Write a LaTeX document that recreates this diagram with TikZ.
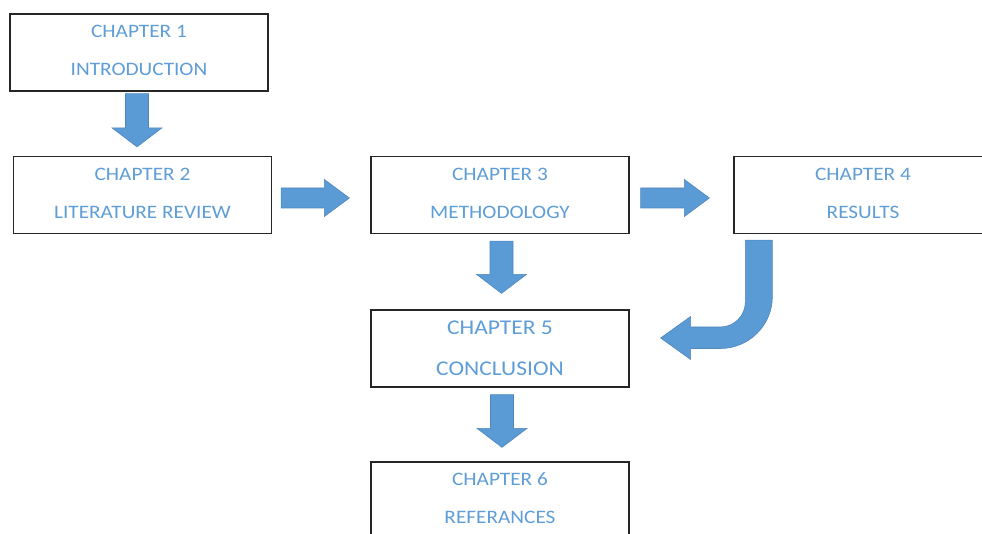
\documentclass[tikz,border=0pt]{standalone}
\usepackage{fontspec}
\setmainfont[FakeStretch=1.12]{Carlito}
\usepackage{tikz}
\usetikzlibrary{calc}

\definecolor{arrowblue}{HTML}{5B9BD5}
\definecolor{arrowedge}{HTML}{4F86BC}
\definecolor{textblue}{HTML}{5E9DD6}

\newcommand{\downblock}[2]{% shaft top, tip
	\filldraw[blockarrow] let \p1=(#1), \p2=(#2) in
		(\x1-11.5pt,\y1)--(\x1-11.5pt,\y2+19pt)--(\x1-25pt,\y2+19pt)--(\x1,\y2)
		--(\x1+25pt,\y2+19pt)--(\x1+11.5pt,\y2+19pt)--(\x1+11.5pt,\y1)--cycle;}
\newcommand{\rightblock}[2]{% shaft start, tip
	\filldraw[blockarrow] let \p1=(#1), \p2=(#2) in
		(\x1,\y1+10pt)--(\x2-25pt,\y1+10pt)--(\x2-25pt,\y1+18.5pt)--(\x2,\y1)
		--(\x2-25pt,\y1-18.5pt)--(\x2-25pt,\y1-10pt)--(\x1,\y1-10pt)--cycle;}

\begin{document}
\begin{tikzpicture}[x=1pt, y=-1pt,
	chapbox/.style={draw=black!85, line width=1.3pt, minimum width=258pt, minimum height=77pt,
		align=center, text=textblue, text depth=4pt, font=\fontsize{19}{38}\selectfont},
	blockarrow/.style={fill=arrowblue, draw=arrowedge, line width=0.6pt, line join=miter}]
	\clip (0,0) rectangle (982,534);

	\node[chapbox] (ch1) at (139,52.5) {CHAPTER 1\\INTRODUCTION};
	\node[chapbox] (ch2) at (142.5,195) {CHAPTER 2\\LITERATURE REVIEW};
	\node[chapbox] (ch3) at (500,195) {CHAPTER 3\\METHODOLOGY};
	\node[chapbox] (ch4) at (863,195) {CHAPTER 4\\RESULTS};
	\node[chapbox, text depth=1pt, font=\fontsize{21}{41}\selectfont] (ch5) at (500,348.5) {CHAPTER 5\\CONCLUSION};
	\node[chapbox] (ch6) at (500,500.5) {CHAPTER 6\\REFERANCES};

	% block arrows between the chapters
	\coordinate (a1) at ([xshift=-2pt, yshift=-2pt]ch1.south);
	\coordinate (a1tip) at ([yshift=9pt]a1 |- ch2.north);
	\downblock{a1}{a1tip}

	\coordinate (a2) at ([xshift=9pt, yshift=-3pt]ch2.east);
	\coordinate (a2tip) at ([xshift=-21pt]a2 -| ch3.west);
	\rightblock{a2}{a2tip}

	\coordinate (a3) at ([xshift=11pt, yshift=-3pt]ch3.east);
	\coordinate (a3tip) at ([xshift=-24pt]a3 -| ch4.west);
	\rightblock{a3}{a3tip}

	\coordinate (a4) at ([xshift=1.5pt, yshift=-7pt]ch3.south);
	\coordinate (a4tip) at ([yshift=16pt]a4 |- ch5.north);
	\downblock{a4}{a4tip}

	\coordinate (a5) at ([xshift=2pt, yshift=-7pt]ch5.south);
	\coordinate (a5tip) at ([yshift=14pt]a5 |- ch6.north);
	\downblock{a5}{a5tip}

	% bent arrow from chapter 4 back to chapter 5
	\coordinate (bendtop) at ([xshift=25.5pt, yshift=-6pt]ch4.south west);
	\coordinate (bendtip) at ([xshift=31pt, yshift=10.5pt]ch5.east);
	\coordinate (bend) at (bendtop |- bendtip);
	\filldraw[blockarrow] ($(bendtop)+(-13.5,0)$) -- ($(bend)+(-13.5,-36)$)
		.. controls ($(bend)+(-13.5,-22.2)$) and ($(bend)+(-24.7,-11)$) .. ($(bend)+(-38.5,-11)$)
		-- ($(bendtip)+(30,-11)$) -- ($(bendtip)+(30,-21.5)$) -- (bendtip)
		-- ($(bendtip)+(30,21.5)$) -- ($(bendtip)+(30,10.5)$) -- ($(bend)+(-38.5,10.5)$)
		.. controls ($(bend)+(-9.8,10.5)$) and ($(bend)+(13.5,-12.8)$) .. ($(bend)+(13.5,-41.5)$)
		-- ($(bendtop)+(13.5,0)$) -- cycle;
\end{tikzpicture}
\end{document}
